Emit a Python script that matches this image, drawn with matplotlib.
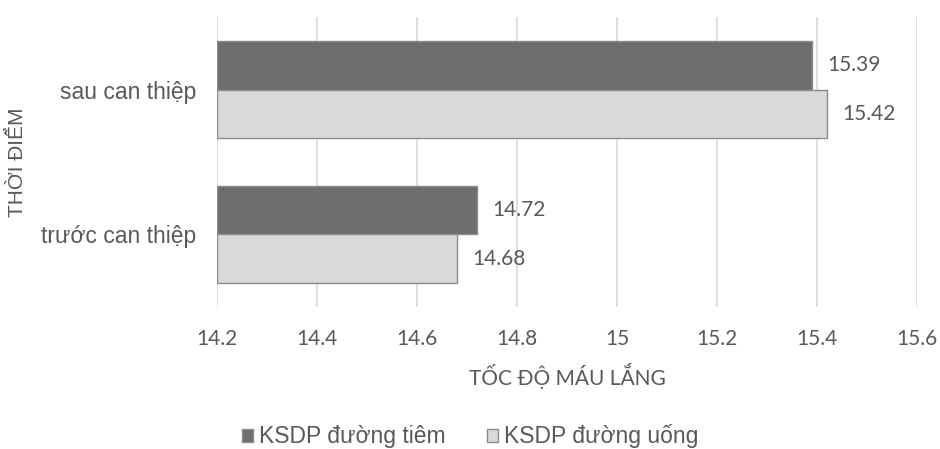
import numpy as np
import matplotlib.pyplot as plt
from matplotlib.patches import Patch

# toc do mau lang truoc / sau can thiep
categories = ['trước can thiệp', 'sau can thiệp']
series_names = ['KSDP đường tiêm', 'KSDP đường uống']
tiem = [14.72, 15.39]
uong = [14.68, 15.42]
xticks = [14.2, 14.4, 14.6, 14.8, 15.0, 15.2, 15.4, 15.6]
xtick_labels = ['14.2', '14.4', '14.6', '14.8', '15', '15.2', '15.4', '15.6']

txt = '#595959'
narrow = ['Lato', 'DejaVu Sans']
arial = ['Liberation Sans', 'DejaVu Sans']

fig = plt.figure(figsize=(9.4, 4.49), dpi=100)
ax = fig.add_axes([0.2309, 0.3163, 0.7446, 0.6458])

y = np.arange(len(categories))
h = 0.335
base = 14.2

bars_t = ax.barh(y + h / 2, np.array(tiem) - base, height=h, left=base,
                 color='#6d6d6d', edgecolor='#8c8c8c', linewidth=1, zorder=3)
bars_u = ax.barh(y - h / 2, np.array(uong) - base, height=h, left=base,
                 color='#d9d9d9', edgecolor='#8c8c8c', linewidth=1, zorder=3)

# value labels just right of each bar
for bars, vals in [(bars_t, tiem), (bars_u, uong)]:
    for b, v in zip(bars, vals):
        ax.annotate(f'{v:.2f}', (v, b.get_y() + b.get_height() / 2),
                    xytext=(15, 0), textcoords='offset pixels',
                    va='center', ha='left', fontsize=15, color=txt, family=narrow)

ax.set_xlim(14.2, 15.6)
ax.set_ylim(-0.5, 1.5)
ax.set_xticks(xticks)
ax.set_xticklabels(xtick_labels, family=narrow, fontsize=15, color=txt)
ax.set_yticks(y)
ax.set_yticklabels(categories, family=arial, fontsize=16.5, color=txt)
ax.tick_params(axis='x', length=0, pad=16)
ax.tick_params(axis='y', length=0, pad=15)

ax.grid(axis='x', color='#d9d9d9', linewidth=1.2, zorder=0)
for s in ax.spines.values():
    s.set_visible(False)

ax.set_xlabel('TỐC ĐỘ MÁU LẮNG', family=narrow, fontsize=15, color=txt, labelpad=10)
fig.text(0.019, 0.3163 + 0.6458 / 2, 'THỜI ĐIỂM', rotation=90, va='center', ha='center',
         family=arial, fontsize=15, color=txt)

handles = [Patch(facecolor='#6d6d6d', edgecolor='#8c8c8c'),
           Patch(facecolor='#d9d9d9', edgecolor='#8c8c8c')]
leg = fig.legend(handles, series_names, loc='center', bbox_to_anchor=(0.5, 0.028),
                 ncol=2, frameon=False, handlelength=0.5, handleheight=0.5,
                 handletextpad=0.25, columnspacing=1.8,
                 prop={'family': arial, 'size': 16.5})
for t in leg.get_texts():
    t.set_color(txt)

fig.savefig('out.png', dpi=100)
